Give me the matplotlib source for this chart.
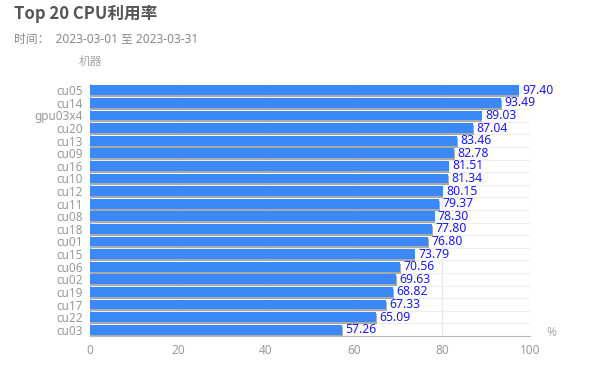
import matplotlib
matplotlib.use("Agg")
import matplotlib.pyplot as plt
import matplotlib.patheffects as pe

plt.rcParams['font.family'] = ['Noto Sans', 'Noto Sans CJK SC', 'DejaVu Sans']

machines = ["cu05", "cu14", "gpu03x4", "cu20", "cu13", "cu09", "cu16", "cu10", "cu12", "cu11",
            "cu08", "cu18", "cu01", "cu15", "cu06", "cu02", "cu19", "cu17", "cu22", "cu03"]
usage = [97.40, 93.49, 89.03, 87.04, 83.46, 82.78, 81.51, 81.34, 80.15, 79.37,
         78.30, 77.80, 76.80, 73.79, 70.56, 69.63, 68.82, 67.33, 65.09, 57.26]
x_ticks = [0, 20, 40, 60, 80, 100]

fig = plt.figure(figsize=(5.9, 3.85), dpi=100)
ax = fig.add_axes([90 / 590, 1 - 336 / 385, 440 / 590, 252 / 385])

pos = list(range(len(machines)))
bars = ax.barh(pos, usage, height=0.78, color="#3b89f6", zorder=3)
for b in bars:
    b.set_path_effects([pe.SimplePatchShadow(offset=(0.5, -1.5), shadow_rgbFace="#888888", alpha=0.7),
                        pe.Normal()])

for p, v in zip(pos, usage):
    ax.annotate(f"{v:.2f}", (v, p), xytext=(2.5, 0), textcoords="offset points",
                va="center", ha="left", fontsize=8.8, color="#1a1aee", zorder=4)

ax.set_ylim(len(machines) - 0.5, -0.5)
ax.set_xlim(0, 100)
ax.set_xticks(x_ticks)
ax.set_yticks(pos)
ax.set_yticklabels(machines)
ax.set_yticks([p + 0.5 for p in pos[:-1]], minor=True)
ax.grid(True, axis="x", color="#e6e6e6", linewidth=0.8, zorder=0)
ax.grid(True, axis="y", which="minor", color="#eeeeee", linewidth=0.8, zorder=0)
ax.tick_params(axis="both", which="both", length=0, labelcolor="#999999", labelsize=8.5)
ax.tick_params(axis="x", pad=6)
ax.tick_params(axis="y", pad=5)
for s in ["top", "right"]:
    ax.spines[s].set_visible(False)
ax.spines["left"].set_color("#bbbbbb")
ax.spines["bottom"].set_color("#bbbbbb")

fig.text(14 / 590, 1 - 14 / 385, "Top 20 CPU利用率", fontsize=12, fontweight="bold",
         color="#555555", va="center", ha="left", family=["Noto Sans CJK SC", "DejaVu Sans"])
fig.text(14 / 590, 1 - 40 / 385, "时间：  2023-03-01 至 2023-03-31", fontsize=8.5,
         color="#888888", va="center", ha="left")
fig.text(90 / 590, 1 - 62 / 385, "机器", fontsize=8.5, color="#aaaaaa", va="center", ha="center")
fig.text(551 / 590, 1 - 333 / 385, "%", fontsize=8.5, color="#aaaaaa", va="center", ha="center")

fig.savefig("out.png", dpi=100, facecolor="white")
